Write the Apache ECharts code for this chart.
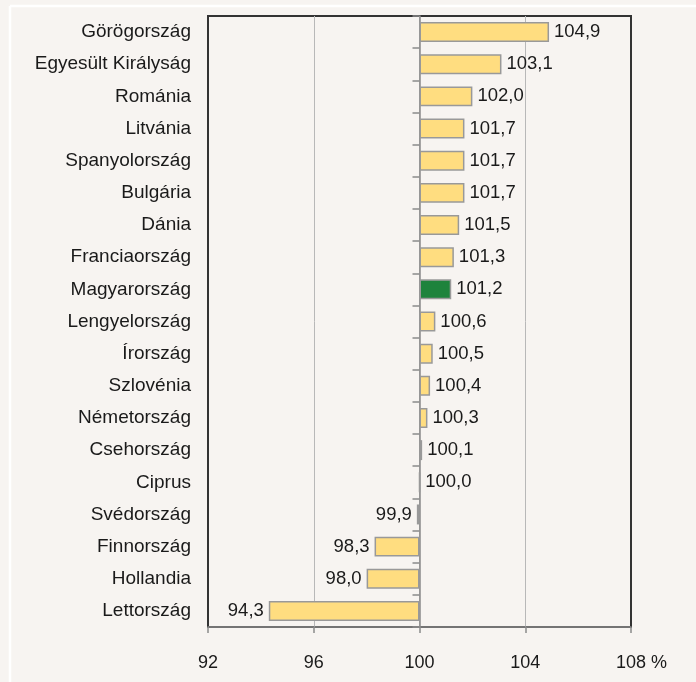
<!DOCTYPE html>
<html>
<head>
<meta charset="utf-8">
<script src="https://cdn.jsdelivr.net/npm/echarts@6/dist/echarts.min.js"></script>
<style>
  html, body { margin: 0; padding: 0; background: #f7f4f1; }
  #chart { width: 696px; height: 682px; }
</style>
</head>
<body>
<div id="chart"></div>
<script>
// országok felülről lefelé
const countries = [
  'Görögország', 'Egyesült Királyság', 'Románia', 'Litvánia', 'Spanyolország',
  'Bulgária', 'Dánia', 'Franciaország', 'Magyarország', 'Lengyelország',
  'Írország', 'Szlovénia', 'Németország', 'Csehország', 'Ciprus',
  'Svédország', 'Finnország', 'Hollandia', 'Lettország'
];
const values = [
  104.9, 103.1, 102.0, 101.7, 101.7,
  101.7, 101.5, 101.3, 101.2, 100.6,
  100.5, 100.4, 100.3, 100.1, 100.0,
  99.9, 98.3, 98.0, 94.3
];
const highlight = 'Magyarország';
const base = 100;
const xTicks = [92, 96, 100, 104, 108];

const font = "'Liberation Sans', Arial, sans-serif";
const chart = echarts.init(document.getElementById('chart'));

// a sávok 100-tól indulnak, ezért az eltérést rajzoljuk
const barData = values.map((v, i) => ({
  value: +(v - base).toFixed(1),
  itemStyle: {color: countries[i] === highlight ? '#1e833c' : '#ffdd80'},
  label: {position: v < base ? 'left' : 'right'}
}));

const option = {
  backgroundColor: '#f7f4f1',
  animation: false,
  graphic: [
    // fehér keret a bal és felső szélen
    {type: 'line', shape: {x1: 10, y1: 6, x2: 10, y2: 682}, style: {stroke: '#ffffff', lineWidth: 2.5}},
    {type: 'line', shape: {x1: 10, y1: 6, x2: 696, y2: 6}, style: {stroke: '#ffffff', lineWidth: 2.5}}
  ],
  grid: {
    left: 208,
    right: 65,
    top: 16,
    bottom: 55,
    show: true,
    borderColor: '#333333',
    borderWidth: 2,
    backgroundColor: 'transparent'
  },
  xAxis: {
    type: 'value',
    min: xTicks[0] - base,
    max: xTicks[xTicks.length - 1] - base,
    interval: 4,
    axisLine: {show: true, onZero: false, lineStyle: {color: '#8a8a8a', width: 1.5}},
    axisTick: {show: true, length: 6, lineStyle: {color: '#8a8a8a', width: 1.5}},
    splitLine: {show: true, showMinLine: false, showMaxLine: false, lineStyle: {color: '#b8b8b8', width: 1}},
    axisLabel: {
      margin: 27,
      color: '#1a1a1a',
      fontFamily: font,
      fontSize: 18,
      formatter: v => {
        const n = Math.round(v + base);
        return n === xTicks[xTicks.length - 1] ? '{sp| }' + n + ' %' : String(n);
      },
      rich: {sp: {width: 21, fontSize: 18}}
    }
  },
  yAxis: [
    {
      type: 'category',
      data: countries,
      inverse: true,
      position: 'left',
      axisLine: {show: false, onZero: false},
      axisTick: {show: false},
      axisLabel: {margin: 17, color: '#1a1a1a', fontFamily: font, fontSize: 19}
    },
    {
      type: 'category',
      data: countries,
      inverse: true,
      position: 'left',
      axisLine: {show: true, onZero: true, onZeroAxisIndex: 0, lineStyle: {color: '#8a8a8a', width: 1.5}},
      axisTick: {show: true, length: 7, lineStyle: {color: '#8a8a8a', width: 1.5}},
      axisLabel: {show: false}
    }
  ],
  series: [
    {
      type: 'bar',
      yAxisIndex: 0,
      data: barData,
      barWidth: '62%',
      itemStyle: {borderColor: '#999999', borderWidth: 1.5},
      label: {
        show: true,
        distance: 5,
        color: '#1a1a1a',
        fontFamily: font,
        fontSize: 18.5,
        formatter: p => values[p.dataIndex].toFixed(1).replace('.', ',')
      },
      z: 3
    }
  ]
};

chart.setOption(option);
</script>
</body>
</html>
